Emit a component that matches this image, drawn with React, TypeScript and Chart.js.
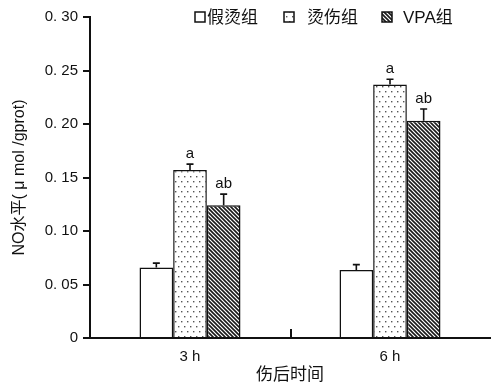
import React, { useEffect, useRef } from "react";
import { Chart, registerables } from "chart.js";

Chart.register(...registerables);

const categories = ["3 h", "6 h"];
const seriesLabels = ["假烫组", "烫伤组", "VPA组"];
const shamValues = [0.066, 0.0636];
const burnValues = [0.157, 0.237];
const vpaValues = [0.124, 0.203];
const shamErr = [0.004, 0.005];
const burnErr = [0.0055, 0.0048];
const vpaErr = [0.0105, 0.011];
const shamLetters = ["", ""];
const burnLetters = ["a", "a"];
const vpaLetters = ["ab", "ab"];
const yTickLabels = ["0", "0. 05", "0. 10", "0. 15", "0. 20", "0. 25", "0. 30"];

const FONT = "'Liberation Sans', 'Noto Sans CJK SC', sans-serif";

function dotPattern(): CanvasPattern | string {
  const c = document.createElement("canvas");
  c.width = 6;
  c.height = 10;
  const g = c.getContext("2d")!;
  g.fillStyle = "#ffffff";
  g.fillRect(0, 0, 6, 10);
  g.fillStyle = "#555555";
  g.fillRect(1, 1, 1.4, 1.4);
  g.fillRect(4, 6, 1.4, 1.4);
  return g.createPattern(c, "repeat") || "#fff";
}

function hatchPattern(): CanvasPattern | string {
  const s = 4;
  const c = document.createElement("canvas");
  c.width = s;
  c.height = s;
  const g = c.getContext("2d")!;
  g.fillStyle = "#ffffff";
  g.fillRect(0, 0, s, s);
  g.strokeStyle = "#1a1a1a";
  g.lineWidth = 1.6;
  g.beginPath();
  g.moveTo(-1, -1);
  g.lineTo(s + 1, s + 1);
  g.moveTo(-1, s - 1);
  g.lineTo(1, s + 1);
  g.moveTo(s - 1, -1);
  g.lineTo(s + 1, 1);
  g.stroke();
  return g.createPattern(c, "repeat") || "#444";
}

const errs = [shamErr, burnErr, vpaErr];
const letters = [shamLetters, burnLetters, vpaLetters];

const overlayPlugin = {
  id: "overlay",
  afterDatasetsDraw(chart: any) {
    const ctx = chart.ctx;
    const y = chart.scales.y;
    const x = chart.scales.x;
    ctx.save();
    chart.data.datasets.forEach((ds: any, di: number) => {
      const meta = chart.getDatasetMeta(di);
      meta.data.forEach((bar: any, i: number) => {
        const v = ds.data[i];
        const top = y.getPixelForValue(v);
        const yt = y.getPixelForValue(v + errs[di][i]);
        ctx.strokeStyle = "#111";
        ctx.lineWidth = 1.6;
        ctx.beginPath();
        ctx.moveTo(bar.x, top);
        ctx.lineTo(bar.x, yt);
        ctx.moveTo(bar.x - 3.5, yt);
        ctx.lineTo(bar.x + 3.5, yt);
        ctx.stroke();
        const t = letters[di][i];
        if (t) {
          ctx.fillStyle = "#111";
          ctx.font = `15px ${FONT}`;
          ctx.textAlign = "center";
          ctx.textBaseline = "bottom";
          ctx.fillText(t, bar.x, yt - 3);
        }
      });
    });
    // inward tick between categories
    ctx.strokeStyle = "#111";
    ctx.lineWidth = 2;
    const xb = (x.getPixelForValue(0) + x.getPixelForValue(1)) / 2 + 1;
    ctx.beginPath();
    ctx.moveTo(xb, x.top);
    ctx.lineTo(xb, x.top - 9);
    ctx.stroke();

    // legend
    const boxX = [195, 284, 382];
    const textX = [207, 307, 403];
    ctx.font = `17px ${FONT}`;
    ctx.textAlign = "left";
    ctx.textBaseline = "middle";
    chart.data.datasets.forEach((ds: any, di: number) => {
      ctx.fillStyle = ds.backgroundColor;
      ctx.fillRect(boxX[di], 12, 10, 10);
      ctx.strokeStyle = "#111";
      ctx.lineWidth = 1.5;
      ctx.strokeRect(boxX[di], 12, 10, 10);
      ctx.fillStyle = "#111";
      ctx.fillText(ds.label, textX[di], 18);
    });
    ctx.restore();
  },
};

export default function App() {
  const ref = useRef<HTMLCanvasElement>(null);
  useEffect(() => {
    document.body.style.margin = "0";
    const canvas = ref.current!;
    const colors = ["#ffffff", dotPattern(), hatchPattern()];
    const values = [shamValues, burnValues, vpaValues];
    const chart = new Chart(canvas, {
      type: "bar",
      data: {
        labels: categories,
        datasets: seriesLabels.map((label, i) => ({
          label,
          data: values[i],
          backgroundColor: colors[i] as any,
          borderColor: "#111",
          borderWidth: 1.5,
          borderSkipped: "bottom",
          barPercentage: 1,
          categoryPercentage: 0.505,
        })),
      },
      options: {
        responsive: false,
        animation: false,
        devicePixelRatio: 1,
        layout: { padding: { top: 17, right: 2, left: 0, bottom: 0 } },
        plugins: { legend: { display: false }, tooltip: { enabled: false } },
        scales: {
          x: {
            offset: true,
            grid: { display: false, drawTicks: false },
            border: { color: "#111", width: 2 },
            ticks: { color: "#111", font: { family: FONT, size: 15 }, padding: 10 },
            title: {
              display: true,
              text: "伤后时间",
              color: "#111",
              font: { family: FONT, size: 17 },
              padding: { top: 0, bottom: 0 },
            },
            afterFit: (s: any) => {
              s.height = 48;
            },
          },
          y: {
            min: 0,
            max: 0.3,
            ticks: {
              stepSize: 0.05,
              color: "#111",
              font: { family: FONT, size: 15 },
              padding: 5,
              callback: (_v: any, i: number) => yTickLabels[i],
            },
            grid: { drawOnChartArea: false, drawTicks: true, tickLength: 7, color: "#111", lineWidth: 2 },
            border: { color: "#111", width: 2 },
            title: {
              display: true,
              text: "NO水平( μ mol /gprot)",
              color: "#111",
              font: { family: FONT, size: 16 },
              padding: { top: 10, bottom: 0 },
            },
            afterFit: (s: any) => {
              s.width = 90;
            },
          },
        },
      },
      plugins: [overlayPlugin],
    });
    return () => chart.destroy();
  }, []);
  return <canvas ref={ref} width={492} height={386} style={{ display: "block" }} />;
}
